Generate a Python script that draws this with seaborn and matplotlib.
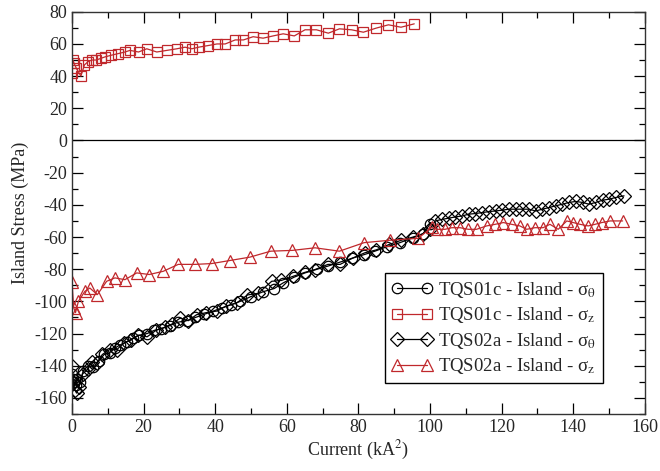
import numpy as np
import pandas as pd
import matplotlib
matplotlib.use('Agg')
import matplotlib.pyplot as plt
from matplotlib.ticker import MultipleLocator
import seaborn as sns

# ---- data ----
# TQS01c - Island - sigma_theta (circles)
s01_theta_x = [0, 0.3, 0.6, 1.0, 1.5, 2.2, 3.2, 4.5, 6.0, 7.5, 9.0, 10.5, 12.0, 13.5,
               15.3, 17.0, 18.8, 21.0, 23.0, 25.0, 27.4, 29.5, 32.0, 34.5, 37.0, 39.5,
               42.0, 44.5, 47.0, 50.0, 53.4, 56.5, 59.0, 62.0, 65.1, 68.5, 71.6, 75.0,
               78.1, 81.5, 84.6, 88.0, 91.6, 95.3, 98.0, 100.0]
s01_theta_y = [-145, -148, -150, -152, -148, -150, -143, -140, -141, -137, -133, -132,
               -129, -127, -125, -123, -121, -120, -118, -117, -115, -113, -112, -110,
               -108, -106, -104, -102, -100, -97, -94, -92, -88.5, -85, -82.3, -80,
               -78, -75.5, -73.3, -71, -68.8, -66, -63.5, -60.4, -58, -52]

# TQS01c - Island - sigma_z (squares)
s01_z_x = [0.0, 0.3, 0.6, 1.2, 2.5, 3.5, 4.5, 5.5, 6.8, 8.0, 9.3, 11.0, 12.9, 14.8,
           16.2, 18.6, 20.9, 23.7, 26.5, 29.3, 31.6, 33.5, 35.4, 38.0, 40.5, 42.8,
           45.6, 47.9, 50.6, 53.4, 56.2, 59.0, 62.1, 65.1, 68.3, 71.6, 74.7, 78.1,
           81.4, 84.9, 88.4, 91.9, 95.6]
s01_z_y = [42, 50, 48, 45, 40, 47, 49, 50, 50, 51, 52, 53, 54, 55, 56, 55, 57, 55, 56,
           57, 58, 57, 58, 59, 60, 60, 62.5, 62.5, 64.5, 63.6, 65, 66.3, 65, 68.8, 68.8,
           66.7, 69.4, 68.8, 67.3, 69.8, 71.9, 70.4, 72.5]

# TQS02a - Island - sigma_theta (diamonds)
s02_theta_x = [0, 0.4, 0.8, 1.3, 2.0, 3.0, 4.5, 5.5, 7.0, 8.5, 10.5, 12.5, 14.5, 16.5,
               18.5, 21.0, 23.5, 26.0, 28.0, 30.2, 32.5, 34.8, 37.5, 40.5, 43.0, 46.0,
               49.0, 52.0, 55.8, 58.5, 61.8, 65.0, 67.9, 71.5, 74.9, 78.5, 81.8, 85.0,
               88.6, 92.0, 95.3, 98.0, 100.0, 101.5, 103.4, 105.2, 107.1, 109.0, 110.8,
               112.7, 114.6, 116.4, 118.3, 120.2, 122.0, 123.9, 125.8, 127.6, 129.5,
               131.4, 133.2, 135.1, 137.0, 138.8, 140.7, 142.6, 144.4, 146.3, 148.2,
               150.0, 151.9, 154.2]
s02_theta_y = [-140, -150, -155, -157, -153, -145, -142, -137.5, -138, -133, -130, -130,
               -126, -124, -121, -122, -118, -116, -114, -110.4, -112, -108.3, -107,
               -106, -103, -101, -96, -95, -87.5, -87, -84.4, -82, -80.2, -77, -77, -73,
               -69.8, -68, -64.6, -62, -60, -58, -55, -50, -49, -48.3, -47.5, -46.9,
               -45.8, -45.4, -44.8, -44.2, -43.8, -43.3, -42.7, -42.7, -42.7, -42.7,
               -43.8, -42.7, -41.7, -40.6, -39.6, -38.5, -37.9, -38.5, -39.6, -38.5,
               -37.1, -36.5, -35.4, -34.4]

# TQS02a - Island - sigma_z (triangles)
s02_z_x = [0.0, 0.5, 1.0, 1.8, 3.6, 5.0, 7.1, 9.7, 12.0, 14.8, 18.1, 21.6, 25.5, 29.7,
           34.4, 39.0, 44.1, 49.7, 55.5, 61.6, 67.9, 74.7, 81.6, 88.8, 96.7, 100.5,
           101.9, 104.2, 106.1, 108.4, 110.7, 113.0, 115.8, 118.2, 120.5, 122.8, 125.1,
           127.0, 129.3, 131.6, 133.5, 135.8, 138.2, 140.0, 141.9, 144.2, 146.1, 148.0,
           150.3, 153.8]
s02_z_y = [-88, -104, -107, -100, -93.8, -91.7, -95.8, -87.5, -85.4, -86.5, -82.3,
           -83.3, -81.3, -77, -77, -76.5, -74.6, -72.5, -68.8, -68.3, -66.7, -68.8,
           -63.5, -62, -60.8, -54, -55.2, -55.2, -54.2, -54.2, -55.2, -55.2, -53.1,
           -52.1, -51, -52.1, -53.1, -55.2, -54.2, -54.2, -52.1, -55.2, -50, -51,
           -52.1, -53.1, -52.1, -51, -50, -50]

labels = [r'TQS01c - Island - σ$_{\mathrm{θ}}$',
          r'TQS01c - Island - σ$_{\mathrm{z}}$',
          r'TQS02a - Island - σ$_{\mathrm{θ}}$',
          r'TQS02a - Island - σ$_{\mathrm{z}}$']

red = '#c0282c'

sns.set_style('ticks')
plt.rcParams['font.family'] = ['Liberation Serif', 'DejaVu Serif']
plt.rcParams['mathtext.fontset'] = 'stix'
plt.rcParams['axes.unicode_minus'] = False

fig = plt.figure(figsize=(6.6, 4.71), dpi=100)
ax = fig.add_axes([0.109, 0.121, 0.868, 0.854])

series = [
    (s01_theta_x, s01_theta_y, 'o', 'black', 7.5),
    (s01_z_x, s01_z_y, 's', red, 7.5),
    (s02_theta_x, s02_theta_y, 'D', 'black', 7),
    (s02_z_x, s02_z_y, '^', red, 8.5),
]

for (xs, ys, mk, col, ms), lab in zip(series, labels):
    df = pd.DataFrame({'x': xs, 'y': ys})
    sns.lineplot(data=df, x='x', y='y', ax=ax, estimator=None, sort=False,
                 color=col, linewidth=0.9, marker=mk, markersize=ms,
                 markerfacecolor='none', markeredgecolor=col,
                 markeredgewidth=0.9, label=lab)

ax.axhline(0, color='black', linewidth=0.9, zorder=1)

ax.set_xlim(0, 160)
ax.set_ylim(-170, 80)
ax.xaxis.set_major_locator(MultipleLocator(20))
ax.xaxis.set_minor_locator(MultipleLocator(10))
ax.yaxis.set_major_locator(MultipleLocator(20))
ax.yaxis.set_minor_locator(MultipleLocator(10))
ax.tick_params(which='both', direction='in', top=True, right=True,
               labelsize=13, color='black', width=0.9)
ax.tick_params(which='major', length=8)
ax.tick_params(which='minor', length=4.5)
for sp in ax.spines.values():
    sp.set_color('#333333')
    sp.set_linewidth(1.0)

ax.set_xlabel(r'Current (kA$^2$)', fontsize=13, labelpad=2)
ax.set_ylabel('Island Stress (MPa)', fontsize=13, labelpad=4)

leg = ax.legend(loc='lower right', bbox_to_anchor=(0.927, 0.077), borderaxespad=0,
                fontsize=13.5, numpoints=2, handlelength=2.2, handletextpad=0.3,
                labelspacing=0.3, borderpad=0.35, fancybox=False, framealpha=1,
                edgecolor='black')
leg.get_frame().set_linewidth(1.0)

fig.savefig('out.png', dpi=100)
